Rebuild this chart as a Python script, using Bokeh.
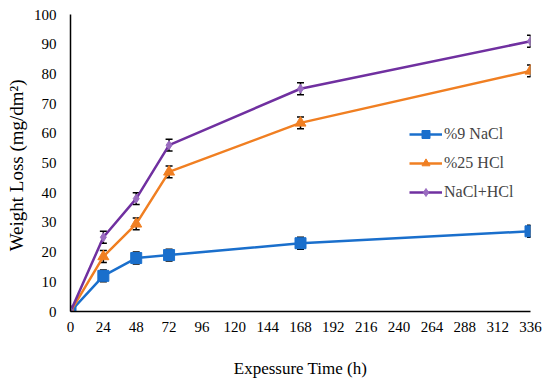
from bokeh.plotting import figure
from bokeh.models import ColumnDataSource, Whisker, TeeHead, Range1d, FixedTicker, Legend
from bokeh.embed import file_html
from bokeh.resources import INLINE

hours = [0, 24, 48, 72, 168, 336]
nacl = [0, 12, 18, 19, 23, 27]
hcl = [0, 18.5, 29.5, 47, 63.5, 81]
mix = [0, 25, 38, 56, 75, 91]
err_nacl = [0.5, 2, 2, 2, 2, 2]
err_hcl = [0.5, 2, 2, 2, 2, 2]
err_mix = [0.5, 2, 2, 2, 2, 2]
names = ["%9 NaCl", "%25 HCl", "NaCl+HCl"]
x_ticks = list(range(0, 337, 24))
y_ticks = list(range(0, 101, 10))

FONT = "Liberation Serif"

p = figure(width=550, height=382, output_backend="svg", toolbar_location=None,
           x_range=Range1d(0, 336), y_range=Range1d(0, 100),
           min_border_left=70, min_border_right=20, min_border_top=14, min_border_bottom=71)
p.outline_line_color = None
p.xgrid.grid_line_color = None
p.ygrid.grid_line_color = None
for ax in (p.xaxis[0], p.yaxis[0]):
    ax.axis_line_color = "black"
    ax.axis_line_width = 1.5
    ax.major_tick_line_color = None
    ax.minor_tick_line_color = None
    ax.major_tick_out = 0
    ax.major_tick_in = 0
    ax.minor_tick_out = 0
    ax.minor_tick_in = 0
    ax.major_label_text_font = FONT
    ax.major_label_text_font_size = "15px"
    ax.major_label_text_color = "black"
    ax.axis_label_text_font = FONT
    ax.axis_label_text_font_style = "normal"
    ax.axis_label_text_color = "black"
p.xaxis.axis_label_text_font_size = "17px"
p.yaxis.axis_label_text_font_size = "19px"
p.xaxis.ticker = FixedTicker(ticks=x_ticks)
p.yaxis.ticker = FixedTicker(ticks=y_ticks)
p.xaxis.major_label_standoff = 10
p.yaxis.major_label_standoff = 14
p.xaxis.axis_label = "Expessure Time (h)"
p.yaxis.axis_label = "Weight Loss  (mg/dm\u00b2)"
p.xaxis.axis_label_standoff = 24
p.yaxis.axis_label_standoff = 4

series = [
    (nacl, err_nacl, "#1a6fcc", "square", 11, "#1a6fcc"),
    (hcl, err_hcl, "#f07f22", "triangle", 11, "#f07f22"),
    (mix, err_mix, "#7030a0", "diamond", 9, "#9a6cc0"),
]
items = []
for (vals, errs, col, mk, sz, mcol), name in zip(series, names):
    src = ColumnDataSource(dict(x=hours, y=vals,
                                lo=[v - e for v, e in zip(vals, errs)],
                                hi=[v + e for v, e in zip(vals, errs)]))
    w = Whisker(base="x", upper="hi", lower="lo", source=src, line_color="black", line_width=1.5,
                upper_head=TeeHead(size=7, line_color="black", line_width=1.5),
                lower_head=TeeHead(size=7, line_color="black", line_width=1.5))
    p.add_layout(w)
    l = p.line("x", "y", source=src, line_color=col, line_width=2.5)
    s = p.scatter("x", "y", source=src, marker=mk, size=sz, fill_color=mcol, line_color=mcol)
    items.append((name, [l, s]))

leg = Legend(items=items, location=(339, 109))
leg.border_line_color = None
leg.background_fill_alpha = 0
leg.padding = 0
leg.margin = 0
leg.label_text_font = FONT
leg.label_text_font_size = "16px"
leg.glyph_width = 33
leg.spacing = 9
leg.label_standoff = 2
p.add_layout(leg, "center")

open("out.html", "w").write(file_html(p, INLINE))
